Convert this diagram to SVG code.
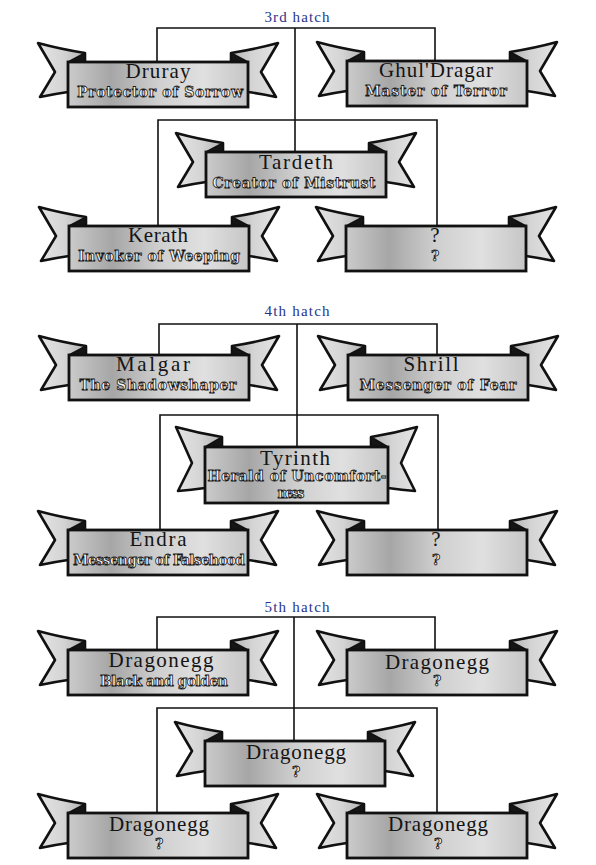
<svg xmlns="http://www.w3.org/2000/svg" xmlns:xlink="http://www.w3.org/1999/xlink" width="596" height="865" viewBox="0 0 596 865">
<style>
.conn{fill:none;stroke:#111;stroke-width:1.6}
.tail{stroke:#111;stroke-width:2.6;stroke-linejoin:round}
.fold{fill:#151515;stroke:#111;stroke-width:1.5;stroke-linejoin:round}
.box{fill:url(#gBox);stroke:#111;stroke-width:2.8}
.hdr{font-family:"Liberation Serif",serif;font-size:15px;fill:#28348a;text-anchor:middle}
.name{font-family:"Liberation Serif",serif;font-size:21px;fill:#141414;text-anchor:middle}
.sub{font-family:"DejaVu Serif",serif;font-size:14px;font-weight:bold;fill:#f6f6f6;stroke:#161616;stroke-width:0.8;text-anchor:middle}
</style>
<defs>
<linearGradient id="gBox" x1="0" y1="0" x2="1" y2="0">
<stop offset="0" stop-color="#cbcbcb"/>
<stop offset="0.24" stop-color="#a6a6a6"/>
<stop offset="0.5" stop-color="#cfcfcf"/>
<stop offset="0.75" stop-color="#e0e0e0"/>
<stop offset="1" stop-color="#c6c6c6"/>
</linearGradient>
<linearGradient id="gTL" x1="0" y1="0" x2="1" y2="0">
<stop offset="0" stop-color="#e4e4e4"/>
<stop offset="0.55" stop-color="#d4d4d4"/>
<stop offset="1" stop-color="#b0b0b0"/>
</linearGradient>
<linearGradient id="gTR" x1="1" y1="0" x2="0" y2="0">
<stop offset="0" stop-color="#e4e4e4"/>
<stop offset="0.55" stop-color="#d4d4d4"/>
<stop offset="1" stop-color="#b0b0b0"/>
</linearGradient>
<g id="banner">
<path class="tail" fill="url(#gTL)" d="M-30,-19 Q-8,-13 17,-9 L17,20 L0,30 Q-14,32 -28,35 L-13,10 Z"/>
<path class="fold" d="M0,0 L17,-9 L17,0 Z"/>
<path class="tail" fill="url(#gTR)" d="M210,-19 Q188,-13 163,-9 L163,20 L180,30 Q194,32 208,35 L193,10 Z"/>
<path class="fold" d="M180,0 L163,-9 L163,0 Z"/>
<rect class="box" x="0" y="0" width="180" height="45"/>
</g>
<g id="bannerTall">
<path class="tail" fill="url(#gTL)" d="M-29,-20 Q-7,-14 17,-10 L17,25 L0,41 Q-14,43 -27,44 L-13,16 Z"/>
<path class="fold" d="M0,0 L17,-10 L17,0 Z"/>
<path class="tail" fill="url(#gTR)" d="M212,-20 Q190,-14 166,-10 L166,25 L183,41 Q197,43 210,44 L196,16 Z"/>
<path class="fold" d="M183,0 L166,-10 L166,0 Z"/>
<rect class="box" x="0" y="0" width="183" height="56"/>
</g>
</defs>
<rect width="596" height="865" fill="#ffffff"/>

<g id="headers">
<text class="hdr" x="297" y="22" textLength="65" lengthAdjust="spacing">3rd hatch</text>
<text class="hdr" x="297" y="316" textLength="65" lengthAdjust="spacing">4th hatch</text>
<text class="hdr" x="297" y="612" textLength="65" lengthAdjust="spacing">5th hatch</text>
</g>

<g id="connectors">
<path class="conn" d="M157,62 V28 H435 V61"/>
<path class="conn" d="M295,28 V152"/>
<path class="conn" d="M158,226 V120 H437 V226"/>
<path class="conn" d="M159,355 V324 H437 V355"/>
<path class="conn" d="M297,324 V447"/>
<path class="conn" d="M160,530 V415 H438 V530"/>
<path class="conn" d="M157,650 V617 H435 V650"/>
<path class="conn" d="M294,617 V741"/>
<path class="conn" d="M157,813 V708 H437 V813"/>
</g>

<g id="node-druray">
<use href="#banner" x="68" y="62"/>
<text class="name" x="158" y="78" textLength="65" lengthAdjust="spacing">Druray</text>
<text class="sub" x="160" y="97" textLength="166" lengthAdjust="spacing">Protector of Sorrow</text>
</g>
<g id="node-ghuldragar">
<use href="#banner" x="347" y="61"/>
<text class="name" x="436" y="77" textLength="114" lengthAdjust="spacing">Ghul'Dragar</text>
<text class="sub" x="436" y="96" textLength="142" lengthAdjust="spacing">Master of Terror</text>
</g>
<g id="node-tardeth">
<use href="#banner" x="206" y="152"/>
<text class="name" x="296" y="169" textLength="74" lengthAdjust="spacing">Tardeth</text>
<text class="sub" x="294" y="188" textLength="163" lengthAdjust="spacing">Creator of Mistrust</text>
</g>
<g id="node-kerath">
<use href="#banner" x="69" y="226"/>
<text class="name" x="158" y="242" textLength="60" lengthAdjust="spacing">Kerath</text>
<text class="sub" x="159" y="261" textLength="162" lengthAdjust="spacing">Invoker of Weeping</text>
</g>
<g id="node-unknown-3">
<use href="#banner" x="346" y="226"/>
<text class="name" x="435" y="242">?</text>
<text class="sub" x="435" y="261">?</text>
</g>

<g id="node-malgar">
<use href="#banner" x="69" y="355"/>
<text class="name" x="153" y="371" textLength="74" lengthAdjust="spacing">Malgar</text>
<text class="sub" x="158" y="390" textLength="157" lengthAdjust="spacing">The Shadowshaper</text>
</g>
<g id="node-shrill">
<use href="#banner" x="348" y="355"/>
<text class="name" x="431" y="371" textLength="55" lengthAdjust="spacing">Shrill</text>
<text class="sub" x="438" y="390" textLength="157" lengthAdjust="spacing">Messenger of Fear</text>
</g>
<g id="node-tyrinth">
<use href="#bannerTall" x="205" y="447"/>
<text class="name" x="295" y="465" textLength="70" lengthAdjust="spacing">Tyrinth</text>
<text class="sub" x="297" y="481" textLength="179" lengthAdjust="spacing">Herald of Uncomfort-</text>
<text class="sub" x="291" y="498" textLength="27" lengthAdjust="spacing">ness</text>
</g>
<g id="node-endra">
<use href="#banner" x="68" y="530"/>
<text class="name" x="158" y="546" textLength="57" lengthAdjust="spacing">Endra</text>
<text class="sub" x="159" y="565" textLength="172" lengthAdjust="spacing">Messenger of Falsehood</text>
</g>
<g id="node-unknown-4">
<use href="#banner" x="347" y="530"/>
<text class="name" x="436" y="546">?</text>
<text class="sub" x="436" y="565">?</text>
</g>

<g id="node-dragonegg-1">
<use href="#banner" x="68" y="650"/>
<text class="name" x="161" y="667" textLength="105" lengthAdjust="spacing">Dragonegg</text>
<text class="sub" x="164" y="686" textLength="128" lengthAdjust="spacing">Black and golden</text>
</g>
<g id="node-dragonegg-2">
<use href="#banner" x="347" y="650"/>
<text class="name" x="437" y="669" textLength="104" lengthAdjust="spacing">Dragonegg</text>
<text class="sub" x="437" y="686">?</text>
</g>
<g id="node-dragonegg-3">
<use href="#banner" x="205" y="741"/>
<text class="name" x="296" y="759" textLength="100" lengthAdjust="spacing">Dragonegg</text>
<text class="sub" x="296" y="777">?</text>
</g>
<g id="node-dragonegg-4">
<use href="#banner" x="68" y="813"/>
<text class="name" x="159" y="831" textLength="100" lengthAdjust="spacing">Dragonegg</text>
<text class="sub" x="159" y="849">?</text>
</g>
<g id="node-dragonegg-5">
<use href="#banner" x="347" y="813"/>
<text class="name" x="438" y="831" textLength="100" lengthAdjust="spacing">Dragonegg</text>
<text class="sub" x="438" y="849">?</text>
</g>
</svg>
